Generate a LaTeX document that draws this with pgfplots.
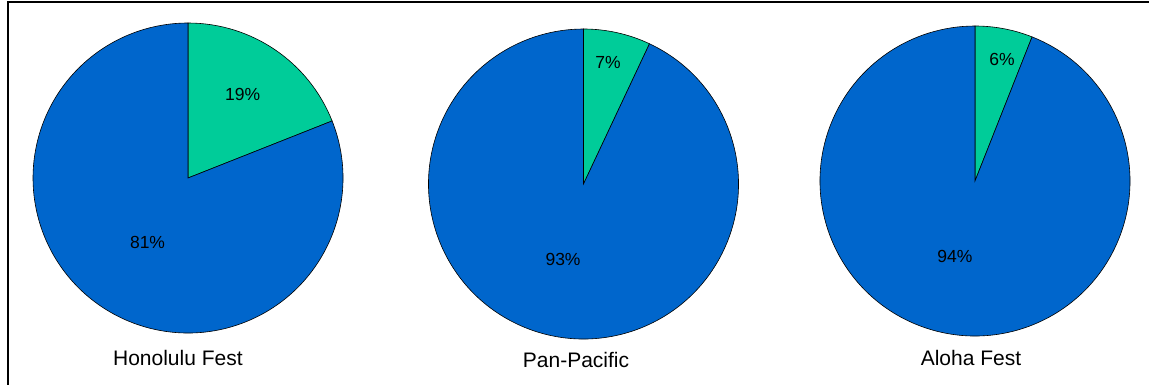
\documentclass[border=0pt]{standalone}
\usepackage{pgfplots}
\usepackage{pgfplotstable}
\pgfplotsset{compat=1.18}
\usepackage{fontspec}
\setmainfont{Liberation Sans}

\definecolor{sliceblue}{RGB}{0,102,204}
\definecolor{slicegreen}{RGB}{0,204,153}

% Share of each festival (percent): green slice, blue slice
\pgfplotstableread{
fest green blue
Honolulu 19 81
PanPacific 7 93
Aloha 6 94
}\festshares

\pgfplotsset{
  festpie/.style={
    hide axis, scale only axis, clip=false,
    width=310bp, height=310bp,
    xmin=-1, xmax=1, ymin=-1, ymax=1,
    anchor=center,
  },
}
\newcommand\labelfont{\fontsize{17.5bp}{20bp}\selectfont}
\newcommand\titlefont{\fontsize{21bp}{25bp}\selectfont}

% #1 table row
\newcommand\getshares[1]{%
  \pgfplotstablegetelem{#1}{green}\of\festshares\edef\gval{\pgfplotsretval}%
  \pgfplotstablegetelem{#1}{blue}\of\festshares\edef\bval{\pgfplotsretval}%
}
\newcommand\drawslices{%
  \filldraw[slicegreen, draw=black, line width=0.6bp]
    (axis cs:0,0) -- ++(90:155bp)
    arc[start angle=90, end angle={90-3.6*\gval}, radius=155bp] -- cycle;
  \filldraw[sliceblue, draw=black, line width=0.6bp]
    (axis cs:0,0) -- ++({90-3.6*\gval}:155bp)
    arc[start angle={90-3.6*\gval}, end angle={90-3.6*\gval-3.6*\bval}, radius=155bp] -- cycle;
}

\begin{document}
\begin{tikzpicture}[x=1bp, y=1bp]
\useasboundingbox (0,0) rectangle (1149bp,385bp);
\draw[line width=2bp] (8bp,-5bp) -- (8bp,382.5bp) -- (1160bp,382.5bp);

\getshares{0}
\begin{axis}[festpie, at={(188bp,207bp)}]
  \drawslices
  \node[font=\labelfont] at (axis cs:0.352,0.542) {\gval\%};
  \node[font=\labelfont] at (axis cs:-0.261,-0.419) {\bval\%};
  \node[font=\titlefont] at (axis cs:-0.065,-1.161) {Honolulu Fest};
\end{axis}

\getshares{1}
\begin{axis}[festpie, at={(583.5bp,201bp)}]
  \drawslices
  \node[font=\labelfont] at (axis cs:0.158,0.781) {\gval\%};
  \node[font=\labelfont] at (axis cs:-0.132,-0.484) {\bval\%};
  \node[font=\titlefont] at (axis cs:-0.048,-1.135) {Pan-Pacific};
\end{axis}

\getshares{2}
\begin{axis}[festpie, at={(975bp,204bp)}]
  \drawslices
  \node[font=\labelfont] at (axis cs:0.174,0.787) {\gval\%};
  \node[font=\labelfont] at (axis cs:-0.13,-0.49) {\bval\%};
  \node[font=\titlefont] at (axis cs:-0.026,-1.142) {Aloha Fest};
\end{axis}
\end{tikzpicture}
\end{document}
